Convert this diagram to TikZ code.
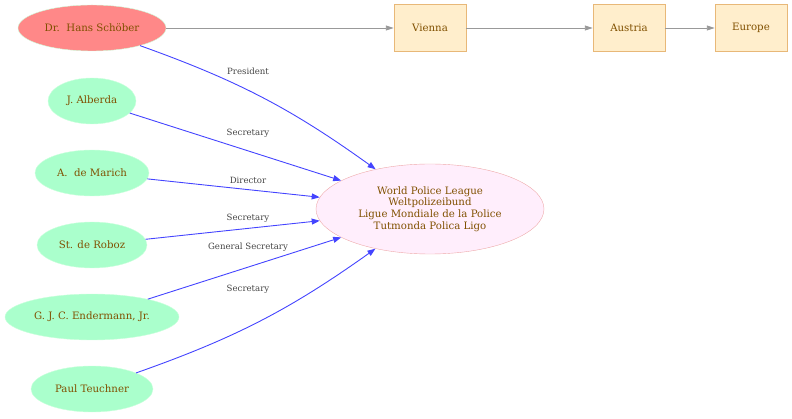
\documentclass[tikz,border=0pt]{standalone}
\usepackage{fontspec}
\setmainfont{DejaVu Serif}
\usetikzlibrary{shapes.geometric, arrows.meta}
\definecolor{chieffill}{RGB}{255, 136, 136}
\definecolor{memberfill}{RGB}{170, 255, 204}
\definecolor{memberline}{RGB}{204, 255, 221}
\definecolor{leaguefill}{RGB}{255, 238, 252}
\definecolor{leagueline}{RGB}{238, 170, 170}
\definecolor{placefill}{RGB}{255, 238, 204}
\definecolor{placeline}{RGB}{232, 184, 120}
\definecolor{nametext}{RGB}{128, 80, 0}
\definecolor{rolecolor}{RGB}{68, 68, 255}
\definecolor{placecolor}{RGB}{153, 153, 153}
\definecolor{roletext}{RGB}{68, 68, 68}
\tikzset{
    person/.style={ellipse, draw=memberline, fill=memberfill, text=nametext,
        font=\fontsize{10.2}{11.7}\selectfont, inner sep=0pt, minimum height=46pt},
    chief/.style={person, fill=chieffill},
    league/.style={ellipse, draw=leagueline, fill=leaguefill, text=nametext,
        font=\fontsize{10.2}{11.7}\selectfont, align=center, inner sep=0pt,
        minimum width=228pt, minimum height=90pt},
    place/.style={rectangle, draw=placeline, fill=placefill, text=nametext,
        font=\fontsize{10.2}{11.7}\selectfont, minimum width=72pt, minimum height=47pt},
    rolelink/.style={draw=rolecolor, line width=0.9pt,
        -{Triangle[length=8pt, width=6pt]}},
    placelink/.style={draw=placecolor, line width=0.9pt,
        -{Triangle[length=8pt, width=5pt]}},
    role/.style={text=roletext, font=\fontsize{8.6}{10}\selectfont},
}

\begin{document}
\begin{tikzpicture}[x=1pt, y=-1pt]
    \useasboundingbox (0, 0) rectangle (792, 419);
    % people
    \node[chief, minimum width=148pt] (schober) at (92, 28) {Dr.\ \ Hans Schöber};
    \node[person, minimum width=88pt] (alberda) at (92, 101) {J. Alberda};
    \node[person, minimum width=114pt] (marich) at (92, 173) {A.\ \ de Marich};
    \node[person, minimum width=110pt] (roboz) at (92, 245) {St. de Roboz};
    \node[person, minimum width=174pt] (endermann) at (92, 317) {G. J. C. Endermann, Jr.};
    \node[person, minimum width=122pt] (teuchner) at (92, 389) {Paul Teuchner};
    % league and places
    \node[league] (wpl) at (430, 209) {World Police League\\Weltpolizeibund\\
        Ligue Mondiale de la Police\\Tutmonda Polica Ligo};
    \node[place] (vienna) at (430, 28) {Vienna};
    \node[place] (austria) at (629, 28) {Austria};
    \node[place] (europe) at (751, 28) {Europe};

    \draw[placelink] (schober) -- (vienna);
    \draw[placelink] (vienna) -- (austria);
    \draw[placelink] (austria) -- (europe);

    \draw[rolelink] (schober) to[bend left=8] (wpl);
    \draw[rolelink] (alberda) -- (wpl);
    \draw[rolelink] (marich) -- (wpl);
    \draw[rolelink] (roboz) -- (wpl);
    \draw[rolelink] (endermann) -- (wpl);
    \draw[rolelink] (teuchner) to[bend right=8] (wpl);

    \node[role] (r1) at (248, 71) {President};
    \node[role] (r2) at (248, 133) {Secretary};
    \node[role] (r3) at (248, 180) {Director};
    \node[role] (r4) at (248, 218) {Secretary};
    \node[role] (r5) at (248, 247) {General Secretary};
    \node[role] (r6) at (248, 289) {Secretary};
\end{tikzpicture}
\end{document}
